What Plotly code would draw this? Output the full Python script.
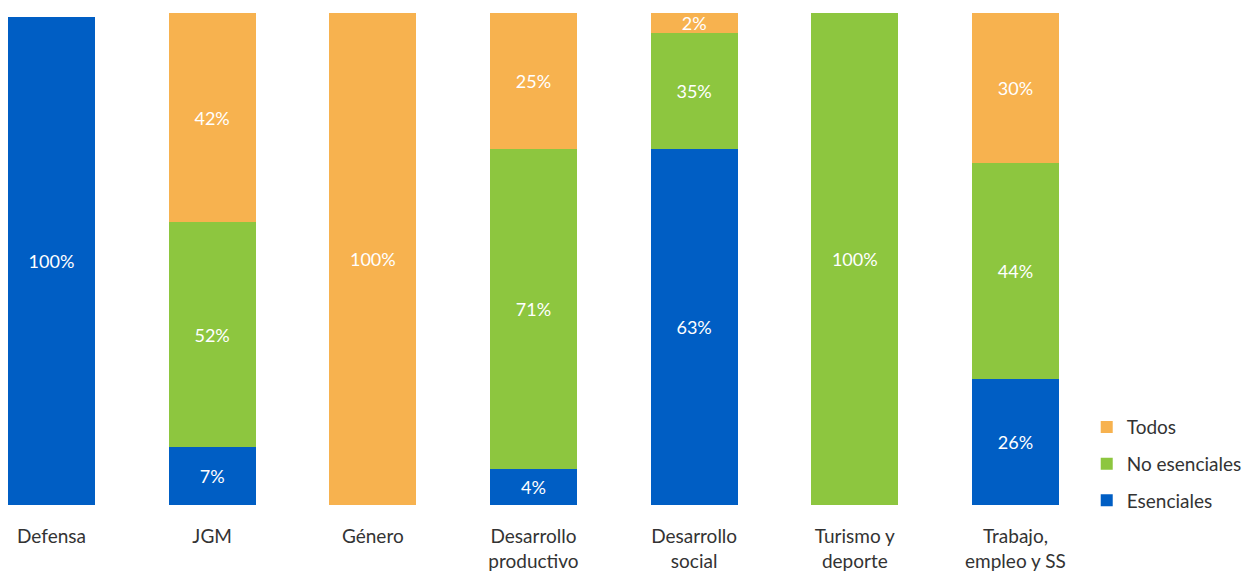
import plotly.graph_objects as go

categories = ["Defensa", "JGM", "Género", "Desarrollo<br>productivo",
              "Desarrollo<br>social", "Turismo y<br>deporte", "Trabajo,<br>empleo y SS"]

# bar heights as drawn (percent of the axis)
esenciales = [99.2, 11.8, 0, 7.3, 72.4, 0, 25.6]
no_esenciales = [0, 45.7, 0, 65.0, 23.6, 100, 43.9]
todos = [0, 42.5, 100, 27.6, 4.1, 0, 30.5]

# printed labels
esenciales_lbl = ["100%", "7%", "", "4%", "63%", "", "26%"]
no_esenciales_lbl = ["", "52%", "", "71%", "35%", "100%", "44%"]
todos_lbl = ["", "42%", "100%", "25%", "2%", "", "30%"]

FONT = "Lato"
series = [
    ("Esenciales", esenciales, esenciales_lbl, "#005EC4", 3),
    ("No esenciales", no_esenciales, no_esenciales_lbl, "#8DC63F", 2),
    ("Todos", todos, todos_lbl, "#F7B24F", 1),
]

fig = go.Figure()
for name, vals, lbl, col, rank in series:
    fig.add_trace(go.Bar(
        x=categories, y=vals, name=name, text=lbl,
        marker=dict(color=col, line=dict(width=0)),
        textposition="inside", insidetextanchor="middle", textangle=0,
        constraintext="none",
        textfont=dict(color="white", size=18, family=FONT),
        legendgroup=name, legendrank=rank, hoverinfo="skip",
    ))

fig.update_layout(
    barmode="stack",
    bargap=0.4585,
    width=1251, height=572,
    margin=dict(l=0, r=161, t=13, b=67, autoexpand=False),
    paper_bgcolor="white", plot_bgcolor="white",
    font=dict(family=FONT, color="#333333", size=19),
    xaxis=dict(range=[-0.3205, 6.464], showgrid=False, showline=False, zeroline=False,
               ticks="outside", ticklen=14, tickcolor="rgba(0,0,0,0)",
               tickfont=dict(size=19, color="#333333", family=FONT)),
    yaxis=dict(range=[0, 100], visible=False),
    legend=dict(traceorder="grouped", x=0.997, xanchor="left", y=0.197, yanchor="top",
                font=dict(size=19, color="#333333", family=FONT),
                tracegroupgap=9, bgcolor="rgba(0,0,0,0)"),
    showlegend=True,
)

fig.write_html("out.html")
